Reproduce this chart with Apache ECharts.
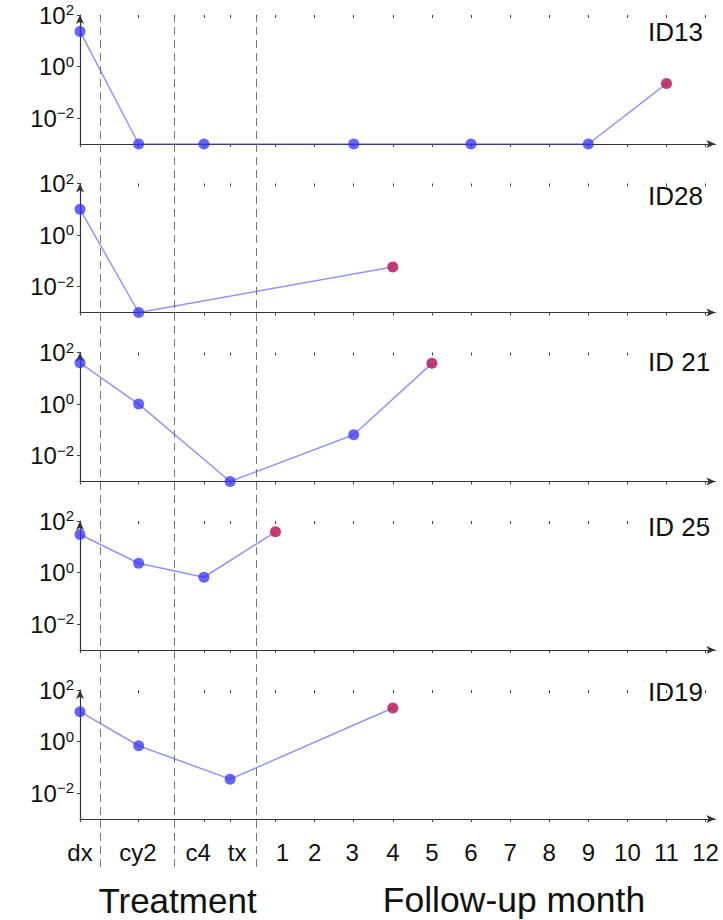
<!DOCTYPE html>
<html>
<head>
<meta charset="utf-8">
<style>
  html, body { margin: 0; padding: 0; background: #fff; }
  #chart { width: 723px; height: 920px; }
</style>
<script src="https://cdn.jsdelivr.net/npm/echarts@6/dist/echarts.min.js"></script>
</head>
<body>
<div id="chart"></div>
<script>
// Timeline positions on the shared x scale (treatment stages, then follow-up months)
const stagePos = { dx: 0, cy2: 1.5, c4: 3.17, tx: 3.84 };
const monthOffset = 4;                       // month m sits at m + monthOffset
const stageBreaks = [0.53, 2.40, 4.50];      // dashed separators
const xTickPos = [0, 0.53, 1.5, 2.40, 3.17, 3.84, 4.50, 5, 6, 7, 8, 9, 10, 11, 12, 13, 14, 15, 16];
const xLabelText = ['dx', 'cy2', 'c4', 'tx', '1', '2', '3', '4', '5', '6', '7', '8', '9', '10', '11', '12'];
const xLabelPos  = [0, 1.48, 3.02, 4.02, 5.18, 6, 6.96, 8, 9, 10, 11, 12, 13, 14, 15, 16];

// Log y axis ticks: labelled as 10^exponent
const yTickVals = [0.01, 1, 100];
const yTickExp  = ['\u22122', '0', '2'];
const yFloor = 0.001;   // undetectable values sit on the axis floor

// Patients: sampling times and measured values (0 = below detection)
const patientNames = ['ID13', 'ID28', 'ID 21', 'ID 25', 'ID19'];
const id13Times  = ['dx', 'cy2', 'c4', 3, 6, 9, 11];
const id13Values = [23, 0, 0, 0, 0, 0, 0.22];
const id28Times  = ['dx', 'cy2', 4];
const id28Values = [10, 0, 0.058];
const id21Times  = ['dx', 'cy2', 'tx', 3, 5];
const id21Values = [40, 1.0, 0, 0.065, 38];
const id25Times  = ['dx', 'cy2', 'c4', 1];
const id25Values = [30, 2.3, 0.66, 38];
const id19Times  = ['dx', 'cy2', 'tx', 4];
const id19Values = [14.4, 0.69, 0.035, 20];

const patientTimes  = [id13Times, id28Times, id21Times, id25Times, id19Times];
const patientValues = [id13Values, id28Values, id21Values, id25Values, id19Values];

// Layout
const FONT = '"Liberation Sans", Arial, sans-serif';
const gridLeft = 80, unitPx = 39.1, xMax = 16.25;
const gridWidth = xMax * unitPx;
const panelTops = [15, 183.5, 352.5, 521, 690];
const panelHeight = 129;
const labelCenters = [32, 196, 362, 527, 692];

const toX = t => (typeof t === 'number') ? t + monthOffset : stagePos[t];

const grids = [], xAxes = [], yAxes = [], series = [], graphics = [];

panelTops.forEach((top, i) => {
  grids.push({ left: gridLeft, width: gridWidth, top: top, height: panelHeight });
  const last = i === panelTops.length - 1;
  const axisLineX = { show: true, symbol: ['none', 'arrow'], symbolSize: [6, 9],
                      lineStyle: { color: '#333', width: 1.2 } };
  // main x axis: line, outer ticks, labels (bottom panel only)
  xAxes.push({
    type: 'value', gridIndex: i, min: 0, max: xMax,
    axisLine: axisLineX,
    splitLine: { show: false },
    axisTick: { show: true, customValues: xTickPos, length: 3, lineStyle: { color: '#444' } },
    axisLabel: {
      show: last, customValues: xLabelPos, margin: 21,
      fontSize: 24, color: '#111', fontFamily: FONT,
      formatter: v => {
        const k = xLabelPos.findIndex(p => Math.abs(p - v) < 1e-6);
        return k >= 0 ? xLabelText[k] : '';
      }
    }
  });
  // companion x axis: inner half of the ticks
  xAxes.push({
    type: 'value', gridIndex: i, min: 0, max: xMax,
    axisLine: { show: false }, splitLine: { show: false }, axisLabel: { show: false },
    axisTick: { show: true, inside: true, customValues: xTickPos, length: 3, lineStyle: { color: '#444' } }
  });
  yAxes.push({
    type: 'log', logBase: 10, gridIndex: i, min: yFloor, max: 100,
    axisLine: { show: true, symbol: ['none', 'arrow'], symbolSize: [6, 9],
                lineStyle: { color: '#333', width: 1.2 } },
    splitLine: { show: false },
    axisTick: { show: true, customValues: yTickVals, length: 3, lineStyle: { color: '#444' } },
    axisLabel: {
      customValues: yTickVals, margin: 6, color: '#111', fontFamily: FONT,
      formatter: v => {
        const k = yTickVals.findIndex(p => Math.abs(Math.log10(p) - Math.log10(v)) < 1e-6);
        return k >= 0 ? '{b|10}{s|' + yTickExp[k] + '}' : '';
      },
      rich: {
        b: { fontSize: 24, fontFamily: FONT, color: '#111', lineHeight: 26 },
        s: { fontSize: 15, fontFamily: FONT, color: '#111', verticalAlign: 'top', lineHeight: 26 }
      }
    }
  });
  yAxes.push({
    type: 'log', logBase: 10, gridIndex: i, min: yFloor, max: 100,
    axisLine: { show: false }, splitLine: { show: false }, axisLabel: { show: false },
    axisTick: { show: true, inside: true, customValues: yTickVals, length: 3, lineStyle: { color: '#444' } }
  });

  const times = patientTimes[i], vals = patientValues[i];
  const data = times.map((t, j) => {
    const item = { value: [toX(t), vals[j] > 0 ? vals[j] : yFloor] };
    if (j === times.length - 1) {
      item.itemStyle = { color: 'rgba(185,25,90,0.85)' };
    }
    return item;
  });
  series.push({
    type: 'line', xAxisIndex: i * 2, yAxisIndex: i * 2, data: data,
    symbol: 'circle', symbolSize: 11, z: 5,
    itemStyle: { color: 'rgba(50,50,245,0.75)' },
    lineStyle: { color: 'rgba(80,80,255,0.62)', width: 1.5 },
    emphasis: { disabled: true }
  });

  graphics.push({
    type: 'text', x: 648, y: labelCenters[i],
    style: { text: patientNames[i], fontSize: 26, fontFamily: FONT, fill: '#111',
             align: 'left', verticalAlign: 'middle' }
  });
});

// Full-height overlay grid carrying the dashed stage separators
const sepGrid = grids.length;
grids.push({ left: gridLeft, width: gridWidth, top: 17, height: 850 });
xAxes.push({ type: 'value', gridIndex: sepGrid, min: 0, max: xMax, show: false });
yAxes.push({ type: 'value', gridIndex: sepGrid, min: 0, max: 1, show: false });
series.push({
  type: 'line', xAxisIndex: xAxes.length - 1, yAxisIndex: yAxes.length - 1, data: [],
  z: 1,
  markLine: {
    silent: true, symbol: ['none', 'none'], label: { show: false },
    lineStyle: { type: [8, 5], color: '#777', width: 1 },
    data: stageBreaks.map(x => ({ xAxis: x }))
  }
});

graphics.push({
  type: 'text', x: 177.5, y: 900,
  style: { text: 'Treatment', fontSize: 35, fontFamily: FONT, fill: '#111',
           align: 'center', verticalAlign: 'middle' }
});
graphics.push({
  type: 'text', x: 514, y: 900,
  style: { text: 'Follow-up month', fontSize: 35.5, fontFamily: FONT, fill: '#111',
           align: 'center', verticalAlign: 'middle' }
});

const chart = echarts.init(document.getElementById('chart'), null, { renderer: 'svg' });
chart.setOption({
  animation: false,
  backgroundColor: '#fff',
  grid: grids,
  xAxis: xAxes,
  yAxis: yAxes,
  series: series,
  graphic: graphics
});
</script>
</body>
</html>
